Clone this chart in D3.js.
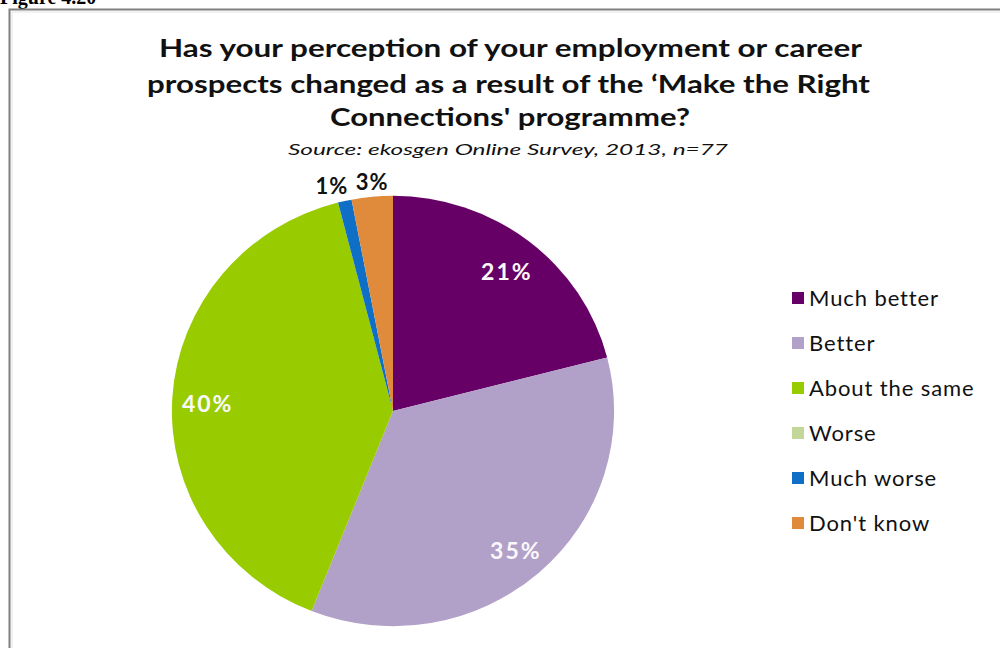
<!DOCTYPE html>
<html>
<head>
<meta charset="utf-8">
<script src="https://cdn.jsdelivr.net/npm/d3@7"></script>
<style>
  html, body { margin: 0; padding: 0; background: #fff; }
  svg { display: block; }
</style>
</head>
<body>
<svg id="chart" width="1000" height="648"></svg>
<script>
// Survey responses, percentage of respondents (n=77)
const categories = ["Much better", "Better", "About the same", "Worse", "Much worse", "Don't know"];
const percentages = [21, 35, 40, 0, 1, 3];
const colors = ["#660066", "#B1A0C7", "#99CC00", "#C4D79B", "#0F6FC6", "#E08A3C"];

const titleLines = [
  "Has your perception of your employment or career",
  "prospects changed as a result of the \u2018Make the Right",
  "Connections' programme?"
];
const subtitle = "Source: ekosgen Online Survey, 2013, n=77";

const svg = d3.select("#chart");
const font = "'Century Gothic', Lato, 'DejaVu Sans', sans-serif";

// Caption above the framed figure
svg.append("text")
  .attr("x", 0).attr("y", 4)
  .attr("font-family", "'Liberation Serif', 'Times New Roman', serif")
  .attr("font-weight", "bold").attr("font-size", 20)
  .text("Figure 4.20");

// Figure frame (left and top edges visible)
svg.append("rect")
  .attr("x", 9.5).attr("y", 9.5)
  .attr("width", 1100).attr("height", 800)
  .attr("fill", "none").attr("stroke", "#7f7f7f").attr("stroke-width", 2);
svg.append("rect")
  .attr("x", 12).attr("y", 12)
  .attr("width", 1100).attr("height", 800)
  .attr("fill", "none").attr("stroke", "#e4e4e4").attr("stroke-width", 1);

// Title
const titleSpec = [
  { y: 57, x0: 159, x1: 862 },
  { y: 93, x0: 147, x1: 870 },
  { y: 126, x0: 330, x1: 690 }
];
titleLines.forEach((t, i) => {
  const s = titleSpec[i];
  svg.append("text")
    .attr("x", s.x0).attr("y", s.y)
    .attr("font-family", font).attr("font-weight", "bold").attr("font-size", 25)
    .attr("fill", "#111")
    .attr("textLength", s.x1 - s.x0).attr("lengthAdjust", "spacingAndGlyphs")
    .text(t);
});
svg.append("text")
  .attr("x", 288).attr("y", 155)
  .attr("font-family", font).attr("font-style", "italic").attr("font-size", 16)
  .attr("fill", "#111")
  .attr("textLength", 440).attr("lengthAdjust", "spacingAndGlyphs")
  .text(subtitle);

// Pie
const cx = 393, cy = 411, R = 220;
const sx = 1.005, sy = 0.978;
const pie = d3.pie().sort(null).value(d => d)(percentages);
const arc = d3.arc().innerRadius(0).outerRadius(R);
const color = d3.scaleOrdinal().domain(categories).range(colors);

const g = svg.append("g")
  .attr("transform", `translate(${cx},${cy}) scale(${sx},${sy})`);

g.selectAll("path.slice")
  .data(pie)
  .join("path")
  .attr("class", "slice")
  .attr("d", arc)
  .attr("fill", (d, i) => color(categories[i]));

// Labels inside large slices
const labelArc = d3.arc().innerRadius(R * 0.84).outerRadius(R * 0.84);
const inside = pie.filter(d => d.value >= 5);
g.selectAll("text.inlabel")
  .data(inside)
  .join("text")
  .attr("class", "inlabel")
  .attr("transform", d => {
    const [x, y] = labelArc.centroid(d);
    return `translate(${x},${y + 4}) scale(${1 / sx},${1 / sy})`;
  })
  .attr("text-anchor", "middle").attr("dy", "0.36em")
  .attr("font-family", font).attr("font-weight", "bold").attr("font-size", 23)
  .attr("letter-spacing", 2)
  .attr("fill", "#fbf8fb")
  .text(d => d.value + "%");

// Labels outside small, non-zero slices
const outside = pie.filter(d => d.value > 0 && d.value < 5);
const outPos = outside.map(d => {
  const a = (d.startAngle + d.endAngle) / 2;
  return { d, x: Math.sin(a) * R, y: -Math.cos(a) * R };
});
// keep neighbouring labels apart horizontally
for (let i = outPos.length - 2; i >= 0; i--) {
  const gap = outPos[i + 1].x - outPos[i].x;
  if (gap < 40) outPos[i].x = outPos[i + 1].x - 40;
}
g.selectAll("text.outlabel")
  .data(outPos)
  .join("text")
  .attr("class", "outlabel")
  .attr("transform", p => `translate(${p.x},${p.y - 15}) scale(${1 / sx},${1 / sy})`)
  .attr("text-anchor", "middle").attr("dy", "0.36em")
  .attr("font-family", font).attr("font-weight", "bold").attr("font-size", 22)
  .attr("letter-spacing", 1)
  .attr("fill", "#111")
  .text(p => p.d.value + "%");

// Legend
const legend = svg.append("g");
const rowY = d3.scalePoint().domain(categories).range([298, 523]);
const items = legend.selectAll("g.item")
  .data(categories)
  .join("g")
  .attr("class", "item")
  .attr("transform", d => `translate(792,${rowY(d)})`);
items.append("rect")
  .attr("x", 0).attr("y", -6).attr("width", 12).attr("height", 12)
  .attr("fill", d => color(d));
items.append("text")
  .attr("x", 17).attr("dy", "0.36em")
  .attr("font-family", font).attr("font-size", 22)
  .attr("letter-spacing", 0.9)
  .attr("fill", "#111")
  .text(d => d);
</script>
</body>
</html>
